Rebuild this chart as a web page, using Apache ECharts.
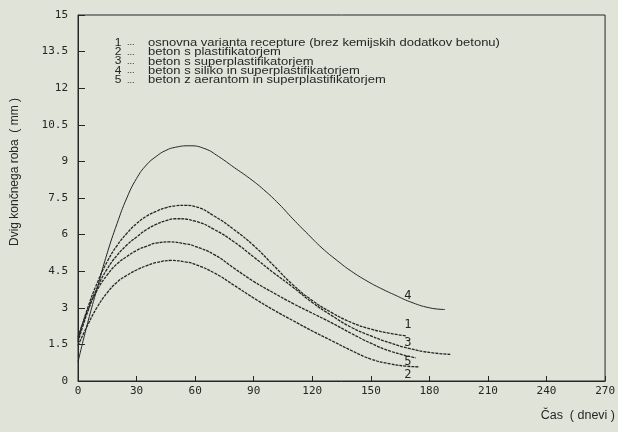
<!DOCTYPE html>
<html>
<head>
<meta charset="utf-8">
<script src="https://cdn.jsdelivr.net/npm/echarts@6/dist/echarts.min.js"></script>
<style>
  html, body { margin: 0; padding: 0; background: #dfe3d8; }
  #chart { width: 618px; height: 432px; }
</style>
</head>
<body>
<div id="chart"></div>
<script>
// krivulje dviga [dan, mm] odčitane iz slike
var krivulja1 = [[0,1.7],[5,3.0],[10,4.05],[15,4.9],[20,5.55],[25,6.05],[30,6.45],[35,6.75],[40,6.95],[45,7.1],[50,7.18],[55,7.2],[60,7.15],[70,6.75],[80,6.2],[90,5.55],[100,4.75],[110,3.95],[120,3.3],[130,2.8],[140,2.4],[150,2.13],[160,1.95],[168,1.85]];
var krivulja2 = [[0,1.45],[5,2.3],[10,3.05],[15,3.62],[20,4.05],[25,4.33],[30,4.55],[35,4.72],[40,4.85],[48,4.94],[55,4.88],[60,4.78],[70,4.42],[80,3.92],[90,3.4],[100,2.92],[110,2.48],[120,2.05],[130,1.65],[140,1.25],[150,0.9],[160,0.7],[168,0.61],[175,0.58]];
var krivulja3 = [[0,1.6],[5,2.85],[10,3.85],[15,4.6],[20,5.15],[25,5.57],[30,5.9],[35,6.2],[40,6.42],[45,6.57],[50,6.65],[60,6.55],[70,6.2],[80,5.7],[90,5.08],[100,4.45],[110,3.85],[120,3.22],[130,2.68],[140,2.2],[150,1.85],[160,1.56],[170,1.33],[180,1.17],[191,1.09]];
var krivulja4 = [[0,0.78],[5,2.4],[10,3.85],[15,5.25],[20,6.45],[25,7.5],[30,8.3],[35,8.85],[40,9.2],[45,9.45],[50,9.58],[57,9.64],[65,9.52],[72,9.2],[80,8.75],[88,8.3],[95,7.85],[103,7.25],[110,6.65],[118,6.0],[125,5.45],[133,4.92],[140,4.5],[148,4.1],[155,3.8],[163,3.5],[170,3.25],[180,3.0],[188,2.93]];
var krivulja5 = [[0,1.8],[5,2.9],[10,3.75],[15,4.35],[20,4.8],[25,5.1],[30,5.35],[35,5.52],[40,5.65],[47,5.7],[55,5.62],[60,5.52],[70,5.17],[80,4.62],[90,4.08],[100,3.62],[110,3.18],[120,2.78],[130,2.38],[140,1.95],[150,1.55],[160,1.22],[173,0.95]];

// oznake krivulj (številka, položaj v enotah osi)
var oznake = ['1', '2', '3', '4', '5'];
var oznakeX = [169, 169, 169, 169, 169];
var oznakeY = [2.29, 0.25, 1.55, 3.47, 0.78];

var legenda = [
  'osnovna varianta recepture (brez kemijskih dodatkov betonu)',
  'beton s plastifikatorjem',
  'beton s superplastifikatorjem',
  'beton s siliko in superplastifikatorjem',
  'beton z aerantom in superplastifikatorjem'
];

var xTicks = [0, 30, 60, 90, 120, 150, 180, 210, 240, 270];
var yTicks = [0, 1.5, 3, 4.5, 6, 7.5, 9, 10.5, 12, 13.5, 15];

var chart = echarts.init(document.getElementById('chart'));
var ink = '#262626';
var mono = '"DejaVu Sans Mono", monospace';
var sans = '"Liberation Sans", Arial, sans-serif';

var podatki = [krivulja1, krivulja2, krivulja3, krivulja4, krivulja5];

var series = podatki.map(function (d, i) {
  return {
    name: oznake[i],
    type: 'line',
    data: d,
    smooth: 0.5,
    showSymbol: false,
    symbol: 'none',
    silent: true,
    lineStyle: {
      color: ink,
      width: i === 3 ? 1 : 1.3,
      type: i === 3 ? 'solid' : [3, 1]
    },
    markPoint: {
      symbol: 'circle',
      symbolSize: 0,
      silent: true,
      label: {
        show: true,
        position: 'inside',
        formatter: oznake[i],
        color: ink,
        fontFamily: mono,
        fontSize: 12
      },
      data: [{ coord: [oznakeX[i], oznakeY[i]] }]
    }
  };
});

var graphic = [
  {
    type: 'text', x: 15, y: 172, rotation: Math.PI / 2,
    style: { text: 'Dvig končnega roba  ( mm )', font: '12px ' + sans, fill: ink, align: 'center', verticalAlign: 'middle' }
  },
  {
    type: 'text', x: 615, y: 416,
    style: { text: 'Čas  ( dnevi )', font: '12.5px ' + sans, fill: ink, align: 'right', verticalAlign: 'middle' }
  }
];
legenda.forEach(function (t, i) {
  var y = 43 + i * 9.3;
  graphic.push({ type: 'text', x: 118, y: y, scaleY: 0.85, style: { text: oznake[i], font: '12px ' + sans, fill: ink, align: 'center', verticalAlign: 'middle' } });
  graphic.push({ type: 'text', x: 127, y: y, style: { text: '...', font: '9px ' + sans, fill: ink, align: 'left', verticalAlign: 'middle' } });
  graphic.push({ type: 'text', x: 148, y: y, scaleY: 0.85, style: { text: t, font: '13px ' + sans, fill: ink, align: 'left', verticalAlign: 'middle' } });
});

chart.setOption({
  backgroundColor: '#dfe3d8',
  animation: false,
  grid: {
    left: 78, right: 12, top: 15, bottom: 51,
    show: true, borderColor: ink, borderWidth: 1
  },
  xAxis: {
    type: 'value',
    min: xTicks[0], max: xTicks[xTicks.length - 1], interval: 30,
    axisLine: { lineStyle: { color: ink, width: 1 } },
    axisTick: { inside: true, length: 5, lineStyle: { color: ink } },
    axisLabel: { color: ink, fontFamily: mono, fontSize: 11, margin: 5 },
    splitLine: { show: false }
  },
  yAxis: {
    type: 'value',
    min: yTicks[0], max: yTicks[yTicks.length - 1], interval: 1.5,
    axisLine: { show: true, lineStyle: { color: ink, width: 1 } },
    axisTick: { show: true, inside: true, length: 7, lineStyle: { color: ink } },
    axisLabel: { color: ink, fontFamily: mono, fontSize: 11, margin: 10 },
    splitLine: { show: false }
  },
  graphic: graphic,
  series: series
});
</script>
</body>
</html>
